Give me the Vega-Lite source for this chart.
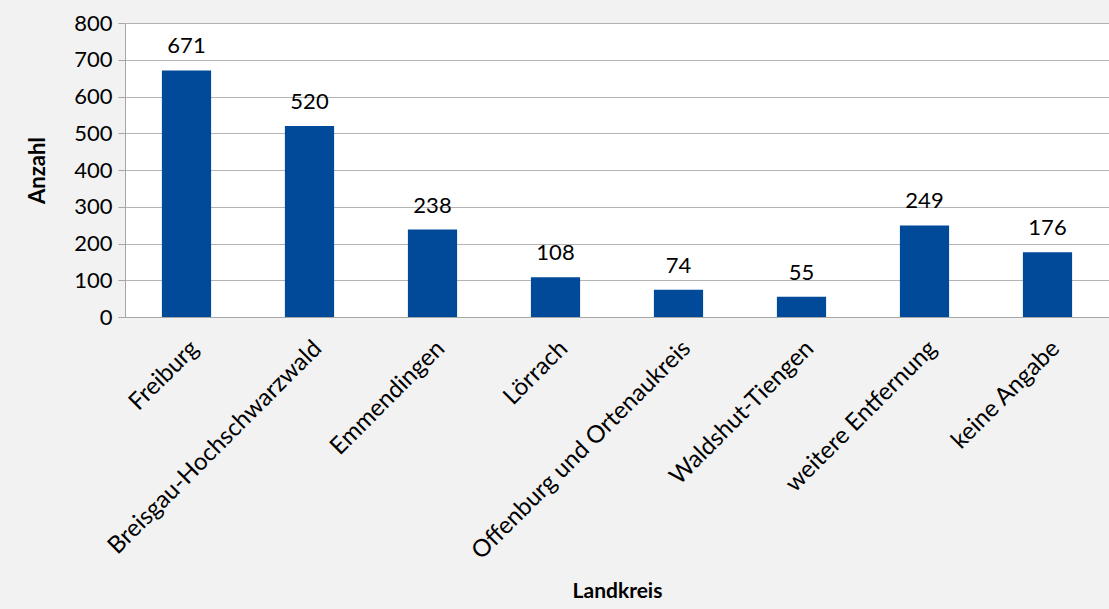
{
  "$schema": "https://vega.github.io/schema/vega-lite/v6.json",
  "width": 984,
  "height": 294,
  "autosize": {"type": "none"},
  "padding": {"left": 125, "top": 23, "right": 0, "bottom": 292},
  "background": "#f2f2f2",
  "view": {"fill": "white", "stroke": null},
  "data": {"values": [
    {"Landkreis": "Freiburg", "Anzahl": 671},
    {"Landkreis": "Breisgau-Hochschwarzwald", "Anzahl": 520},
    {"Landkreis": "Emmendingen", "Anzahl": 238},
    {"Landkreis": "Lörrach", "Anzahl": 108},
    {"Landkreis": "Offenburg und Ortenaukreis", "Anzahl": 74},
    {"Landkreis": "Waldshut-Tiengen", "Anzahl": 55},
    {"Landkreis": "weitere Entfernung", "Anzahl": 249},
    {"Landkreis": "keine Angabe", "Anzahl": 176}
  ]},
  "encoding": {
    "x": {"field": "Landkreis", "type": "nominal", "sort": null,
      "scale": {"paddingInner": 0.6, "paddingOuter": 0.3},
      "axis": {"title": "Landkreis", "labelAngle": -45, "labelFontSize": 24, "labelFont": "Lato", "labelColor": "#000", "labelLimit": 0,
        "titleFont": "Lato", "titleFontSize": 21, "titleFontWeight": "bold", "titleColor": "#000", "titleY": 263,
        "ticks": false, "domainColor": "#a6a6a6", "labelPadding": 19}},
    "y": {"field": "Anzahl", "type": "quantitative",
      "scale": {"domain": [0, 800]},
      "axis": {"title": "Anzahl", "values": [0,100,200,300,400,500,600,700,800], "labelFontSize": 22, "labelFont": "Lato", "labelColor": "#000",
        "titleFont": "Lato", "titleFontSize": 22, "titleFontWeight": "bold", "titleColor": "#000", "titleX": -76,
        "domainColor": "#a6a6a6", "tickColor": "#a6a6a6", "tickSize": 7, "gridColor": "#b3b3b3", "labelPadding": 6}}
  },
  "layer": [
    {"mark": {"type": "bar", "color": "#004a99"}},
    {"mark": {"type": "text", "baseline": "bottom", "dy": -12, "fontSize": 22, "font": "Lato", "color": "#000"},
     "encoding": {"text": {"field": "Anzahl", "type": "quantitative"}}}
  ]
}
